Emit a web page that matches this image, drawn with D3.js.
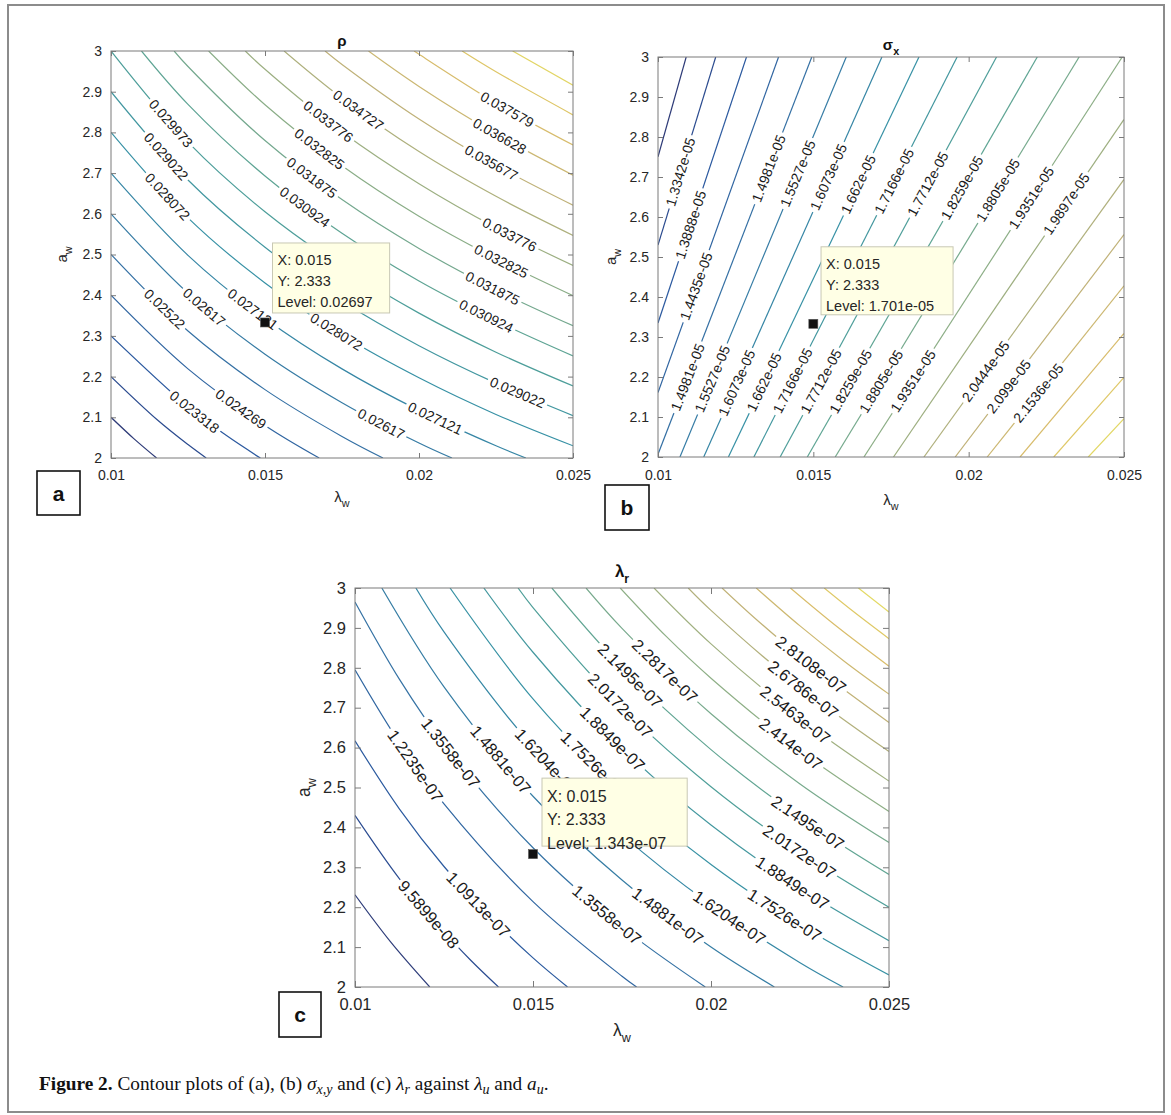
<!DOCTYPE html>
<html><head><meta charset="utf-8">
<script src="https://cdn.jsdelivr.net/npm/d3@7"></script>
<style>
body{margin:0;background:#fff}
svg{display:block}
text{font-family:"Liberation Sans",Arial,Helvetica,sans-serif}
</style>
</head><body>
<svg id="fig" width="1171" height="1115"></svg>
<script>
// ---------- shared axis data ----------
const xTicks = [0.01, 0.015, 0.02, 0.025];
const xTickLabels = ['0.01', '0.015', '0.02', '0.025'];
const yTicks = [2, 2.1, 2.2, 2.3, 2.4, 2.5, 2.6, 2.7, 2.8, 2.9, 3];
const yTickLabels = ['2', '2.1', '2.2', '2.3', '2.4', '2.5', '2.6', '2.7', '2.8', '2.9', '3'];
const parula = ['#352a87', '#0f5cdd', '#1481d6', '#06a4ca', '#2eb7a4', '#87bf77', '#d1bb59', '#fec832', '#f9fb0e'];

// ---------- panel (a): rho ----------
const rhoLevels = [0.021416, 0.022367, 0.023318, 0.024269, 0.02522, 0.02617, 0.027121, 0.028072, 0.029022, 0.029973,
  0.030924, 0.031875, 0.032825, 0.033776, 0.034727, 0.035677, 0.036628, 0.037579, 0.03853, 0.03948];
const rhoCLim = [0.020465, 0.04056];
const rhoLines = [
  [[0.010, 2.100], [0.01075, 2.047], [0.01148, 2.000]],
  [[0.010, 2.200], [0.0115, 2.094], [0.0125, 2.033], [0.01309, 2.000]],
  [[0.010, 2.300], [0.0125, 2.126], [0.01375, 2.055], [0.01485, 2.000]],
  [[0.010, 2.400], [0.0125, 2.219], [0.015, 2.080], [0.01676, 2.000]],
  [[0.010, 2.500], [0.0125, 2.312], [0.015, 2.168], [0.0175, 2.053], [0.01883, 2.000]],
  [[0.010, 2.600], [0.0125, 2.405], [0.015, 2.255], [0.0175, 2.136], [0.020, 2.037], [0.02107, 2.000]],
  [[0.010, 2.700], [0.0125, 2.498], [0.015, 2.343], [0.0175, 2.219], [0.020, 2.117], [0.0225, 2.030], [0.02347, 2.000]],
  [[0.010, 2.800], [0.0125, 2.590], [0.015, 2.430], [0.0175, 2.302], [0.020, 2.197], [0.0225, 2.107], [0.025, 2.030]],
  [[0.010, 2.900], [0.0125, 2.683], [0.015, 2.518], [0.0175, 2.385], [0.020, 2.276], [0.0225, 2.184], [0.025, 2.104]],
  [[0.010, 3.000], [0.0125, 2.776], [0.015, 2.605], [0.0175, 2.469], [0.020, 2.356], [0.0225, 2.260], [0.025, 2.177]],
  [[0.01099, 3.000], [0.0125, 2.869], [0.015, 2.693], [0.0175, 2.552], [0.020, 2.435], [0.0225, 2.337], [0.025, 2.251]],
  [[0.01205, 3.000], [0.0125, 2.962], [0.015, 2.780], [0.0175, 2.635], [0.020, 2.515], [0.0225, 2.413], [0.025, 2.325]],
  [[0.01317, 3.000], [0.015, 2.868], [0.0175, 2.718], [0.020, 2.594], [0.0225, 2.490], [0.025, 2.399]],
  [[0.01436, 3.000], [0.015, 2.955], [0.0175, 2.801], [0.020, 2.674], [0.0225, 2.566], [0.025, 2.473]],
  [[0.01562, 3.000], [0.0175, 2.884], [0.020, 2.753], [0.0225, 2.643], [0.025, 2.547]],
  [[0.01695, 3.000], [0.0175, 2.967], [0.020, 2.833], [0.0225, 2.719], [0.025, 2.621]],
  [[0.01836, 3.000], [0.020, 2.913], [0.0225, 2.796], [0.025, 2.695]],
  [[0.01984, 3.000], [0.020, 2.992], [0.0225, 2.872], [0.025, 2.769]],
  [[0.0214, 3.000], [0.0225, 2.949], [0.025, 2.843]],
  [[0.02304, 3.000], [0.025, 2.916]]
];
// [level index, lambda, a] approximate label centres
const rhoLabels = [
  [9, 0.01204, 2.829], [8, 0.01187, 2.747], [7, 0.0119, 2.647], [4, 0.01176, 2.367], [5, 0.01309, 2.377],
  [6, 0.01471, 2.377], [7, 0.01732, 2.31], [2, 0.01275, 2.116], [3, 0.01425, 2.124], [5, 0.01879, 2.086],
  [6, 0.02053, 2.098], [8, 0.02318, 2.159], [10, 0.01632, 2.62], [11, 0.01661, 2.698], [12, 0.01688, 2.771],
  [13, 0.01716, 2.837], [14, 0.01814, 2.865], [17, 0.02293, 2.865], [16, 0.02271, 2.804], [15, 0.02244, 2.739],
  [13, 0.02298, 2.555], [12, 0.02271, 2.49], [11, 0.02244, 2.424], [10, 0.02222, 2.355], [9, 0.01727, 2.48]
];
const rhoTip = [0.015, 2.333, 0.02697];

// ---------- panel (b): sigma_x ----------
const sigLevels = [1.2796e-05, 1.3342e-05, 1.3888e-05, 1.4435e-05, 1.4981e-05, 1.5527e-05, 1.6073e-05, 1.662e-05,
  1.7166e-05, 1.7712e-05, 1.8259e-05, 1.8805e-05, 1.9351e-05, 1.9897e-05, 2.0444e-05, 2.099e-05, 2.1536e-05,
  2.2082e-05, 2.2629e-05, 2.3175e-05];
const sigCLim = [1.2253e-05, 2.3727e-05];
const sigLines = [
  [[0.010, 2.7506], [0.010907, 3]],
  [[0.010, 2.530], [0.011857, 3]],
  [[0.010, 2.335], [0.012848, 3]],
  [[0.010, 2.161], [0.01388, 3]],
  [[0.010, 2.007], [0.01495, 3]],
  [[0.010706, 2], [0.016059, 3]],
  [[0.011472, 2], [0.017208, 3]],
  [[0.012266, 2], [0.0184, 3]],
  [[0.013086, 2], [0.019628, 3]],
  [[0.013931, 2], [0.020897, 3]],
  [[0.014805, 2], [0.022208, 3]],
  [[0.015704, 2], [0.023556, 3]],
  [[0.016629, 2], [0.024943, 3]],
  [[0.01758, 2], [0.025, 2.844]],
  [[0.01856, 2], [0.025, 2.694]],
  [[0.019565, 2], [0.025, 2.556]],
  [[0.020596, 2], [0.025, 2.428]],
  [[0.021654, 2], [0.025, 2.309]],
  [[0.02274, 2], [0.025, 2.199]],
  [[0.02385, 2], [0.025, 2.096]]
];
const sigLabels = [
  [1, 0.01074, 2.713], [2, 0.01105, 2.58], [3, 0.01123, 2.427], [4, 0.01343, 2.726], [5, 0.01451, 2.709],
  [6, 0.01547, 2.70], [7, 0.0164, 2.684], [8, 0.01756, 2.692], [9, 0.01864, 2.684], [10, 0.01971, 2.676],
  [11, 0.02083, 2.672], [12, 0.02187, 2.655], [13, 0.023, 2.64],
  [4, 0.01089, 2.202], [5, 0.0117, 2.197], [6, 0.01254, 2.185], [7, 0.01337, 2.189], [8, 0.01433, 2.19],
  [9, 0.01525, 2.189], [10, 0.01618, 2.189], [11, 0.01717, 2.189], [12, 0.01822, 2.189],
  [14, 0.02055, 2.214], [15, 0.02129, 2.176], [16, 0.02225, 2.159]
];
const sigTip = [0.015, 2.333, 1.701e-05];

// ---------- panel (c): lambda_r ----------
const lamLevels = [8.2676e-08, 9.5899e-08, 1.0913e-07, 1.2235e-07, 1.3558e-07, 1.4881e-07, 1.6204e-07, 1.7526e-07,
  1.8849e-07, 2.0172e-07, 2.1495e-07, 2.2817e-07, 2.414e-07, 2.5463e-07, 2.6786e-07, 2.8108e-07, 2.9431e-07,
  3.0754e-07, 3.2077e-07, 3.3399e-07];
const lamCLim = [6.833e-08, 3.459e-07];
const lamLines = [
  [[0.010, 2.231], [0.011, 2.113], [0.0121, 2.000]],
  [[0.010, 2.430], [0.01125, 2.271], [0.0125, 2.138], [0.01325, 2.067], [0.01403, 2.000]],
  [[0.010, 2.617], [0.01125, 2.446], [0.0125, 2.302], [0.01375, 2.180], [0.015, 2.073], [0.01597, 2.000]],
  [[0.010, 2.795], [0.01125, 2.612], [0.0125, 2.459], [0.015, 2.214], [0.0175, 2.027], [0.01791, 2.000]],
  [[0.010, 2.965], [0.01125, 2.771], [0.0125, 2.608], [0.015, 2.349], [0.0175, 2.150], [0.01984, 2.000]],
  [[0.010754, 3.000], [0.0125, 2.752], [0.015, 2.478], [0.0175, 2.268], [0.020, 2.100], [0.02178, 2.000]],
  [[0.01171, 3.000], [0.0125, 2.890], [0.015, 2.602], [0.0175, 2.382], [0.020, 2.206], [0.0225, 2.061], [0.02371, 2.000]],
  [[0.01267, 3.000], [0.015, 2.722], [0.0175, 2.491], [0.020, 2.307], [0.0225, 2.156], [0.025, 2.030]],
  [[0.01362, 3.000], [0.015, 2.839], [0.0175, 2.598], [0.020, 2.406], [0.0225, 2.248], [0.025, 2.116]],
  [[0.01458, 3.000], [0.015, 2.951], [0.0175, 2.701], [0.020, 2.502], [0.0225, 2.338], [0.025, 2.200]],
  [[0.01553, 3.000], [0.0175, 2.801], [0.020, 2.595], [0.0225, 2.425], [0.025, 2.282]],
  [[0.01649, 3.000], [0.0175, 2.899], [0.020, 2.685], [0.0225, 2.509], [0.025, 2.362]],
  [[0.01745, 3.000], [0.01875, 2.878], [0.020, 2.774], [0.0225, 2.592], [0.025, 2.440]],
  [[0.0184, 3.000], [0.020, 2.860], [0.0225, 2.673], [0.025, 2.516]],
  [[0.01936, 3.000], [0.020, 2.944], [0.0225, 2.752], [0.025, 2.590]],
  [[0.02031, 3.000], [0.02125, 2.923], [0.0225, 2.829], [0.025, 2.663]],
  [[0.02127, 3.000], [0.0225, 2.905], [0.02375, 2.816], [0.025, 2.734]],
  [[0.02223, 3.000], [0.0235, 2.906], [0.025, 2.804]],
  [[0.02318, 3.000], [0.024, 2.941], [0.025, 2.873]],
  [[0.02414, 3.000], [0.025, 2.940]]
];
const lamLabels = [
  [15, 0.02281, 2.807], [14, 0.0226, 2.747], [13, 0.02237, 2.682], [12, 0.02229, 2.615], [11, 0.01869, 2.79],
  [10, 0.01774, 2.782], [9, 0.01748, 2.707], [8, 0.01725, 2.623], [7, 0.0167, 2.56], [6, 0.01532, 2.56],
  [5, 0.01414, 2.573], [4, 0.0127, 2.588], [3, 0.0117, 2.555], [1, 0.01204, 2.18], [2, 0.01344, 2.205],
  [4, 0.01699, 2.172], [5, 0.01874, 2.173], [6, 0.02047, 2.167], [7, 0.02203, 2.176], [8, 0.02226, 2.257],
  [9, 0.02247, 2.336], [10, 0.02272, 2.412]
];
const lamTip = [0.015, 2.333, 1.343e-07];

// ---------- helpers ----------
function fmtG(v) {
  if (Math.abs(v) < 1e-4) {
    let [m, e] = v.toExponential(4).split('e');
    m = m.replace(/\.?0+$/, '');
    const sign = e[0] === '-' ? '-' : '+';
    let ex = e.replace(/^[+-]/, '');
    if (ex.length < 2) ex = '0' + ex;
    return m + 'e' + sign + ex;
  }
  let s = v.toPrecision(5);
  if (s.indexOf('.') >= 0) s = s.replace(/0+$/, '').replace(/\.$/, '');
  return s;
}
const interp = d3.piecewise(d3.interpolateRgb, parula);
function lineColour(t) {
  const c = d3.rgb(interp(Math.max(0, Math.min(1, t))));
  const lum = 0.2126 * c.r + 0.7152 * c.g + 0.0722 * c.b;
  const k = 0.4;
  return d3.rgb(c.r * (1 - k) + lum * k, c.g * (1 - k) + lum * k, c.b * (1 - k) + lum * k).darker(0.15).formatHex();
}

const svg = d3.select('#fig');
svg.append('rect').attr('width', 1171).attr('height', 1115).attr('fill', '#fff');
svg.append('rect').attr('x', 8).attr('y', 5).attr('width', 1156).attr('height', 1107)
  .attr('fill', 'none').attr('stroke', '#8c8c8c').attr('stroke-width', 2);

function drawPanel(c) {
  const xs = d3.scaleLinear().domain([0.01, 0.025]).range([c.x0, c.x1]);
  const ys = d3.scaleLinear().domain([2, 3]).range([c.y1, c.y0]);
  const g = svg.append('g');
  const clipId = 'clip-' + c.id;
  svg.append('clipPath').attr('id', clipId).append('rect')
    .attr('x', c.x0).attr('y', c.y0).attr('width', c.x1 - c.x0).attr('height', c.y1 - c.y0);
  const col = d3.scaleLinear().domain(c.clim).range([0, 1]);
  const lineGen = d3.line().x(d => xs(d[0])).y(d => ys(d[1])).curve(c.curve);
  const lg = g.append('g').attr('clip-path', `url(#${clipId})`);
  const paths = c.lines.map((pts, i) => lg.append('path')
    .attr('d', lineGen(pts)).attr('fill', 'none')
    .attr('stroke', lineColour(col(c.levels[i]))).attr('stroke-width', 1.2).node());

  // contour labels
  const labG = g.append('g').attr('clip-path', `url(#${clipId})`);
  c.labels.forEach(([idx, lx, ly]) => {
    const p = paths[idx];
    const len = p.getTotalLength();
    const tx = xs(lx), ty = ys(ly);
    let best = 0, bd = Infinity;
    for (let s = 0; s <= len; s += 0.5) {
      const pt = p.getPointAtLength(s);
      const d = (pt.x - tx) ** 2 + (pt.y - ty) ** 2;
      if (d < bd) { bd = d; best = s; }
    }
    const p0 = p.getPointAtLength(Math.max(0, best - 5));
    const p1 = p.getPointAtLength(Math.min(len, best + 5));
    let ang = Math.atan2(p1.y - p0.y, p1.x - p0.x) * 180 / Math.PI;
    if (ang > 90) ang -= 180;
    if (ang < -90) ang += 180;
    const cp = p.getPointAtLength(best);
    const one = labG.append('g').attr('transform', `translate(${cp.x},${cp.y}) rotate(${ang})`);
    const r = one.append('rect').attr('fill', '#fff');
    const t = one.append('text').text(fmtG(c.levels[idx]))
      .attr('text-anchor', 'middle').attr('dy', '0.35em')
      .attr('fill', '#1a1a1a').style('font-size', c.labFs + 'px');
    const w = t.node().getComputedTextLength();
    r.attr('x', -w / 2 - 3).attr('y', -c.labFs * 0.55).attr('width', w + 6).attr('height', c.labFs * 1.1);
  });

  // axes (ticks inside, box)
  const tl = c.tickLen;
  const styleAxis = sel => {
    sel.select('.domain').remove();
    sel.selectAll('.tick line').attr('stroke', '#7a7a7a');
    sel.selectAll('.tick text').attr('fill', '#262626').style('font-size', c.tickFs + 'px')
      .style('font-family', '"Liberation Sans",Arial,sans-serif');
  };
  g.append('g').attr('transform', `translate(0,${c.y1})`)
    .call(d3.axisBottom(xs).tickValues(xTicks).tickFormat((d, i) => xTickLabels[i]).tickSizeInner(-tl).tickSizeOuter(0).tickPadding(c.xPad))
    .call(styleAxis);
  g.append('g').attr('transform', `translate(0,${c.y0})`)
    .call(d3.axisTop(xs).tickValues(xTicks).tickFormat('').tickSizeInner(-tl).tickSizeOuter(0))
    .call(styleAxis);
  g.append('g').attr('transform', `translate(${c.x0},0)`)
    .call(d3.axisLeft(ys).tickValues(yTicks).tickFormat((d, i) => yTickLabels[i]).tickSizeInner(-tl).tickSizeOuter(0).tickPadding(c.yPad))
    .call(styleAxis);
  g.append('g').attr('transform', `translate(${c.x1},0)`)
    .call(d3.axisRight(ys).tickValues(yTicks).tickFormat('').tickSizeInner(-tl).tickSizeOuter(0))
    .call(styleAxis);
  g.append('rect').attr('x', c.x0).attr('y', c.y0).attr('width', c.x1 - c.x0).attr('height', c.y1 - c.y0)
    .attr('fill', 'none').attr('stroke', '#7a7a7a').attr('stroke-width', 1);

  // title
  const cx = (c.x0 + c.x1) / 2;
  const tt = g.append('text').attr('x', cx).attr('y', c.titleY).attr('text-anchor', 'middle')
    .attr('font-weight', 'bold').attr('fill', '#111').style('font-size', c.titleFs + 'px');
  tt.append('tspan').text(c.title[0]);
  if (c.title[1]) tt.append('tspan').text(c.title[1]).attr('dy', c.titleFs * 0.35).style('font-size', (c.titleFs * 0.72) + 'px');

  // x label
  const xl = g.append('text').attr('x', cx).attr('y', c.xLabY).attr('text-anchor', 'middle')
    .attr('fill', '#262626').style('font-size', c.axFs + 'px');
  xl.append('tspan').text('λ');
  xl.append('tspan').text('w').attr('dy', c.axFs * 0.35).style('font-size', (c.axFs * 0.72) + 'px');
  // y label
  const yl = g.append('text').attr('transform', `translate(${c.yLabX},${(c.y0 + c.y1) / 2}) rotate(-90)`)
    .attr('text-anchor', 'middle').attr('fill', '#262626').style('font-size', c.axFs + 'px');
  yl.append('tspan').text('a');
  yl.append('tspan').text('w').attr('dy', c.axFs * 0.35).style('font-size', (c.axFs * 0.72) + 'px');

  // data tip
  const mx = xs(c.tip[0]), my = ys(c.tip[1]);
  const tipLines = ['X: ' + c.tip[0], 'Y: ' + c.tip[1], 'Level: ' + fmtG(c.tip[2])];
  const tg = g.append('g');
  const bx = mx + c.tipOff[0], by = my + c.tipOff[1];
  const tr = tg.append('rect').attr('x', bx).attr('y', by).attr('height', c.tipH)
    .attr('fill', '#ffffe5').attr('stroke', '#c8c8b4').attr('stroke-width', 1);
  let tw = 0;
  tipLines.forEach((s, i) => {
    const t = tg.append('text').attr('x', bx + 5).attr('y', by + c.tipFs * 1.5 + i * c.tipFs * 1.46)
      .attr('fill', '#262626').style('font-size', c.tipFs + 'px').text(s);
    tw = Math.max(tw, t.node().getComputedTextLength());
  });
  tr.attr('width', tw + c.tipPadR);
  g.append('rect').attr('x', mx - 4.5).attr('y', my - 4.5).attr('width', 9).attr('height', 9)
    .attr('fill', '#111').attr('stroke', '#555').attr('stroke-width', 0.6);

  // panel letter box
  g.append('rect').attr('x', c.box[0]).attr('y', c.box[1]).attr('width', c.box[2]).attr('height', c.box[3])
    .attr('fill', '#fff').attr('stroke', '#111').attr('stroke-width', 1.6);
  g.append('text').attr('x', c.box[0] + c.box[2] / 2).attr('y', c.box[1] + c.box[3] / 2).attr('dy', '0.36em')
    .attr('text-anchor', 'middle').attr('font-weight', 'bold').attr('fill', '#111')
    .style('font-size', '21px').text(c.letter);
}

drawPanel({
  id: 'a', x0: 111, x1: 573, y0: 51, y1: 458, levels: rhoLevels, lines: rhoLines, labels: rhoLabels,
  clim: rhoCLim, curve: d3.curveCatmullRom.alpha(0.5), labFs: 14, tickFs: 14, tickLen: 5, xPad: 12, yPad: 9,
  title: ['ρ', ''], titleY: 46, titleFs: 15, axFs: 15, xLabY: 502, yLabX: 67,
  tip: rhoTip, tipOff: [7.5, -79.5], tipH: 70, tipFs: 14.5, tipPadR: 22,
  box: [37, 471, 43, 44], letter: 'a'
});
drawPanel({
  id: 'b', x0: 658, x1: 1124, y0: 57, y1: 457, levels: sigLevels, lines: sigLines, labels: sigLabels,
  clim: sigCLim, curve: d3.curveLinear, labFs: 14, tickFs: 14, tickLen: 5, xPad: 13, yPad: 9,
  title: ['σ', 'x'], titleY: 50, titleFs: 15, axFs: 15, xLabY: 505, yLabX: 616,
  tip: sigTip, tipOff: [7.7, -77], tipH: 68, tipFs: 14.5, tipPadR: 24,
  box: [605, 485, 44, 45], letter: 'b'
});
drawPanel({
  id: 'c', x0: 355, x1: 889, y0: 588, y1: 987, levels: lamLevels, lines: lamLines, labels: lamLabels,
  clim: lamCLim, curve: d3.curveCatmullRom.alpha(0.5), labFs: 16.5, tickFs: 16.5, tickLen: 6, xPad: 11, yPad: 9,
  title: ['λ', 'r'], titleY: 577, titleFs: 17, axFs: 17.5, xLabY: 1036, yLabX: 310,
  tip: lamTip, tipOff: [9, -76], tipH: 68, tipFs: 16, tipPadR: 26,
  box: [279, 992, 42, 45], letter: 'c'
});

// caption
const cap = svg.append('text').attr('x', 39).attr('y', 1090).attr('fill', '#111')
  .style('font-family', '"Liberation Serif","Times New Roman",serif').style('font-size', '19.3px');
const capParts = [
  ['Figure 2.', 'b', 0], [' Contour plots of (a), (b) ', 'n', 0], ['σ', 'i', 0], ['x,y', 'i', 1],
  [' and (c) ', 'n', -1], ['λ', 'i', 0], ['r', 'i', 1], [' against ', 'n', -1], ['λ', 'i', 0], ['u', 'i', 1],
  [' and ', 'n', -1], ['a', 'i', 0], ['u', 'i', 1], ['.', 'n', -1]
];
capParts.forEach(([s, st, sub]) => {
  const ts = cap.append('tspan').text(s);
  if (st === 'b') ts.attr('font-weight', 'bold');
  if (st === 'i') ts.attr('font-style', 'italic');
  if (sub === 1) ts.attr('dy', 4).style('font-size', '14px');
  if (sub === -1) ts.attr('dy', -4);
});
</script>
</body></html>
